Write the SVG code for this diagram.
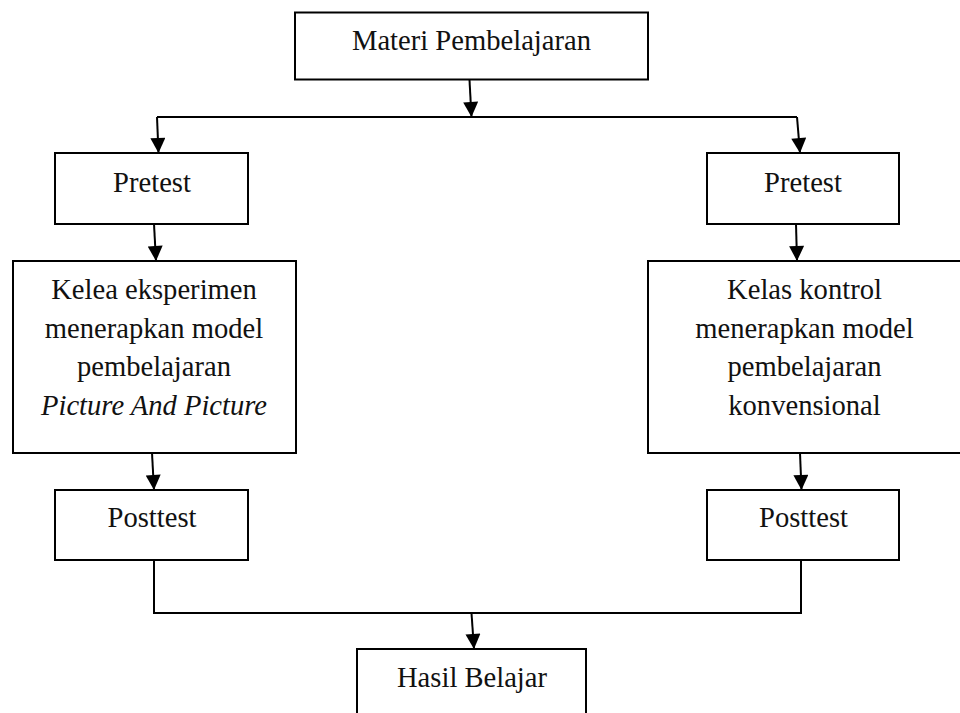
<svg xmlns="http://www.w3.org/2000/svg" width="960" height="713" viewBox="0 0 960 713">
<style>
.box{fill:#fff;stroke:#000;stroke-width:2}
.t{font-family:"Liberation Serif","Times New Roman",serif;font-size:28.6px;fill:#111;text-anchor:middle}
.i{font-style:italic}
.c{fill:none;stroke:#000;stroke-width:2}
</style>
<defs>
<marker id="ah" viewBox="0 0 16 16" refX="16" refY="8" markerWidth="16" markerHeight="15" orient="auto" markerUnits="userSpaceOnUse">
<path d="M0,0 L16,8 L0,16 Z" fill="#000"/>
</marker>
</defs>
<rect width="960" height="713" fill="#fff"/>
<g id="connectors">
<path class="c" d="M469.5,80 L471.5,117" marker-end="url(#ah)"/>
<path class="c" d="M157,117 H797"/>
<path class="c" d="M157,117 L158.5,153" marker-end="url(#ah)"/>
<path class="c" d="M797,117 L800,153" marker-end="url(#ah)"/>
<path class="c" d="M154,224 L156,261" marker-end="url(#ah)"/>
<path class="c" d="M796,224 L797,261" marker-end="url(#ah)"/>
<path class="c" d="M152,453 L154,490" marker-end="url(#ah)"/>
<path class="c" d="M800,453 L801.5,490" marker-end="url(#ah)"/>
<path class="c" d="M154,560 V613 H801 V560"/>
<path class="c" d="M471.5,613 L474,649" marker-end="url(#ah)"/>
</g>
<g id="materi">
<rect class="box" x="295" y="12.5" width="353" height="67"/>
<text class="t" x="471.5" y="50">Materi Pembelajaran</text>
</g>
<g id="pretest-left">
<rect class="box" x="55" y="153" width="193" height="71"/>
<text class="t" x="152" y="192">Pretest</text>
</g>
<g id="pretest-right">
<rect class="box" x="707" y="153" width="192" height="71"/>
<text class="t" x="803" y="192">Pretest</text>
</g>
<g id="kelas-eksperimen">
<rect class="box" x="13" y="261" width="283" height="192"/>
<text class="t" x="154" y="299">Kelea eksperimen</text>
<text class="t" x="154" y="337.5">menerapkan model</text>
<text class="t" x="154" y="376">pembelajaran</text>
<text class="t i" x="154" y="414.5">Picture And Picture</text>
</g>
<g id="kelas-kontrol">
<rect class="box" x="648" y="261" width="316" height="192"/>
<text class="t" x="804.5" y="299">Kelas kontrol</text>
<text class="t" x="804.5" y="337.5">menerapkan model</text>
<text class="t" x="804.5" y="376">pembelajaran</text>
<text class="t" x="804.5" y="414.5">konvensional</text>
</g>
<g id="posttest-left">
<rect class="box" x="55" y="490" width="193" height="70"/>
<text class="t" x="152" y="527">Posttest</text>
</g>
<g id="posttest-right">
<rect class="box" x="707" y="490" width="192" height="70"/>
<text class="t" x="803.5" y="527">Posttest</text>
</g>
<g id="hasil-belajar">
<rect class="box" x="357" y="649" width="229" height="80"/>
<text class="t" x="472" y="687">Hasil Belajar</text>
</g>
</svg>
